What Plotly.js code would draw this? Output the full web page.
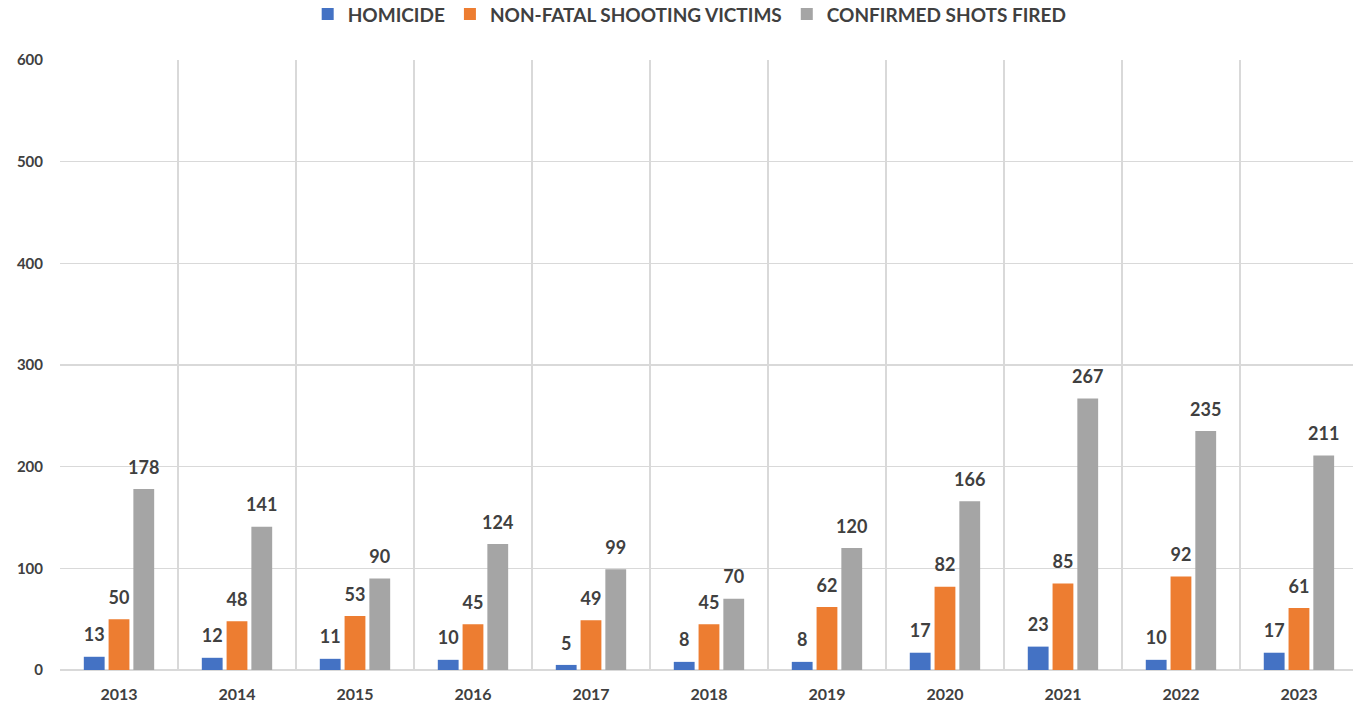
<!DOCTYPE html>
<html><head><meta charset="utf-8">
<script src="https://cdn.plot.ly/plotly-3.0.1.min.js"></script>
<style>html,body{margin:0;padding:0;background:#fff}#chart{width:1353px;height:707px}</style>
</head><body><div id="chart"></div>
<script>
const years = ['2013','2014','2015','2016','2017','2018','2019','2020','2021','2022','2023'];
const homicide = [13,12,11,10,5,8,8,17,23,10,17];
const nonFatal = [50,48,53,45,49,45,62,82,85,92,61];
const shotsFired = [178,141,90,124,99,70,120,166,267,235,211];
const seriesNames = ['HOMICIDE','NON-FATAL SHOOTING VICTIMS','CONFIRMED SHOTS FIRED'];
const colors = ['#4472C4','#ED7D31','#A5A5A5'];
const font = 'Lato, "Open Sans", sans-serif';
const data = [homicide, nonFatal, shotsFired].map((v,i)=>({
  type:'bar', x:years, y:v, name:seriesNames[i],
  marker:{color:colors[i]},
  text:v.map(n => '<span style="font-size:18px">' + n + '</span><br> '),
  textposition:'outside', cliponaxis:false, constraintext:'none',
  textfont:{family:font, size:8, color:'#404040', weight:'bold'},
  hoverinfo:'x+y'
}));
const layout = {
  width:1353, height:707,
  margin:{l:60, r:0, t:60, b:37, autoexpand:false},
  paper_bgcolor:'#fff', plot_bgcolor:'#fff',
  barmode:'group', bargap:0.37, bargroupgap:0.16,
  font:{family:font, color:'#404040'},
  showlegend:true,
  legend:{orientation:'h', x:0.487, xanchor:'center', y:1.075, yanchor:'middle', xref:'paper', yref:'paper',
    font:{family:font, size:19, color:'#404040', weight:'bold'}, traceorder:'normal', itemwidth:30},
  xaxis:{type:'category', tickson:'boundaries', range:[-0.5, 10.458], showgrid:true, gridcolor:'#d9d9d9', gridwidth:1.5,
    ticks:'', showline:false, zeroline:false, ticklabelstandoff:13,
    tickfont:{family:font, size:16, color:'#404040', weight:'bold'}},
  yaxis:{range:[0,600], dtick:100, showgrid:true, gridcolor:'#d9d9d9', gridwidth:1.5,
    zeroline:true, zerolinecolor:'#d9d9d9', zerolinewidth:1.5, showline:false, ticks:'', ticklabelstandoff:16,
    tickfont:{family:font, size:15, color:'#404040', weight:'bold'}}
};
Plotly.newPlot('chart', data, layout, {displayModeBar:false, staticPlot:true});
</script></body></html>
